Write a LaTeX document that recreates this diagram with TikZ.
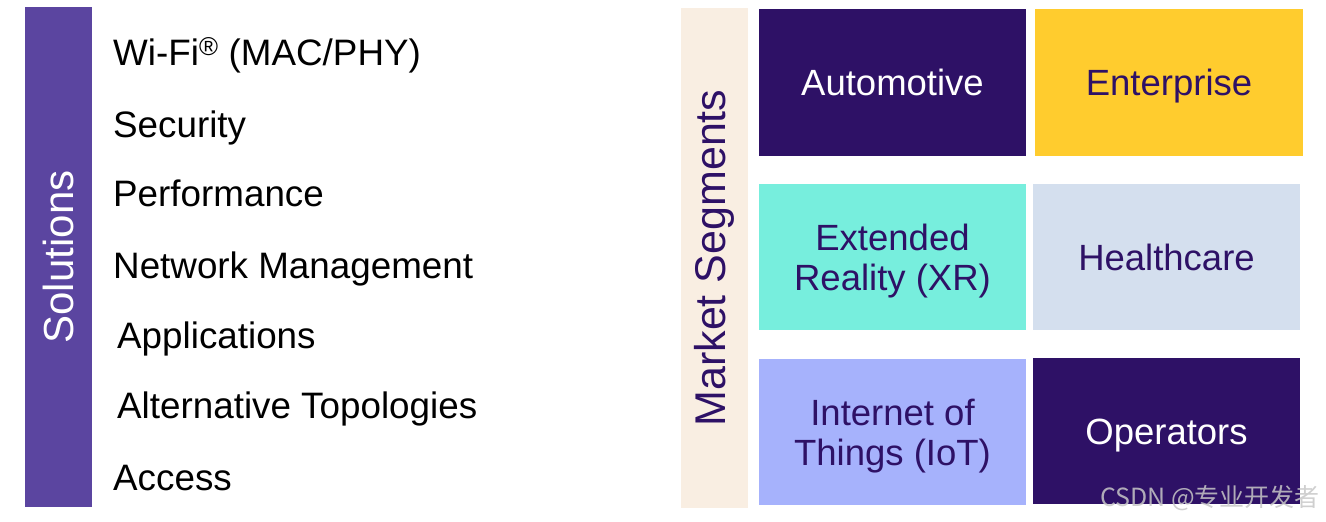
\documentclass[tikz,border=0pt]{standalone}
\usepackage{fontspec}
\setmainfont{Liberation Sans}
\newfontfamily\cjk{Noto Sans CJK SC}
\definecolor{solpurple}{RGB}{91,69,160}
\definecolor{darkpurple}{RGB}{46,17,102}
\definecolor{segyellow}{RGB}{255,204,46}
\definecolor{segteal}{RGB}{119,238,221}
\definecolor{seggrey}{RGB}{212,223,238}
\definecolor{segblue}{RGB}{166,178,252}
\definecolor{segbeige}{RGB}{249,238,226}

\begin{document}
\begin{tikzpicture}[x=1pt, y=-1pt,
  bar/.style={rectangle, rotate=90, inner sep=0pt, minimum width=500, minimum height=67},
  item/.style={anchor=base west, inner sep=0pt, font=\fontsize{36.8}{40}\selectfont},
  seg/.style={rectangle, inner sep=0pt, minimum width=267, minimum height=146, align=center, text height=26, text depth=0, font=\fontsize{36.5}{40}\selectfont, text=darkpurple},
  segtwo/.style={seg, text height=66},
  segdark/.style={seg, fill=darkpurple, text=white}
]
\useasboundingbox (0,0) rectangle (1326,522);
\node[bar, fill=solpurple, text=white, font=\fontsize{42}{42}\selectfont] (sol) at (58.5,257) {Solutions};
\node[item] (i1) at (113,65) {Wi-Fi\textsuperscript{®} (MAC/PHY)};
\node[item] (i2) at (113,137) {Security};
\node[item] (i3) at (113,206) {Performance};
\node[item] (i4) at (113,278) {Network Management};
\node[item] (i5) at (117,348) {Applications};
\node[item] (i6) at (117,418) {Alternative Topologies};
\node[item] (i7) at (113,490) {Access};
\node[bar, fill=segbeige, text=darkpurple, font=\fontsize{43}{43}\selectfont] (mkt) at (714.5,258) {Market Segments};
\node[segdark, minimum height=147] (s1) at (892.5,82.5) {Automotive};
\node[seg, fill=segyellow, minimum width=268, minimum height=147] (s2) at (1169,82.5) {Enterprise};
\node[segtwo, fill=segteal] (s3) at (892.5,257) {Extended\\Reality (XR)};
\node[seg, fill=seggrey] (s4) at (1166.5,257) {Healthcare};
\node[segtwo, fill=segblue] (s5) at (892.5,432) {Internet of\\Things (IoT)};
\node[segdark] (s6) at (1166.5,431) {Operators};
\node[text=black!22, text opacity=0.85, font=\cjk\fontsize{25}{25}\selectfont, inner sep=0pt] (wm) at (1210,498) {CSDN @专业开发者};
\end{tikzpicture}
\end{document}
